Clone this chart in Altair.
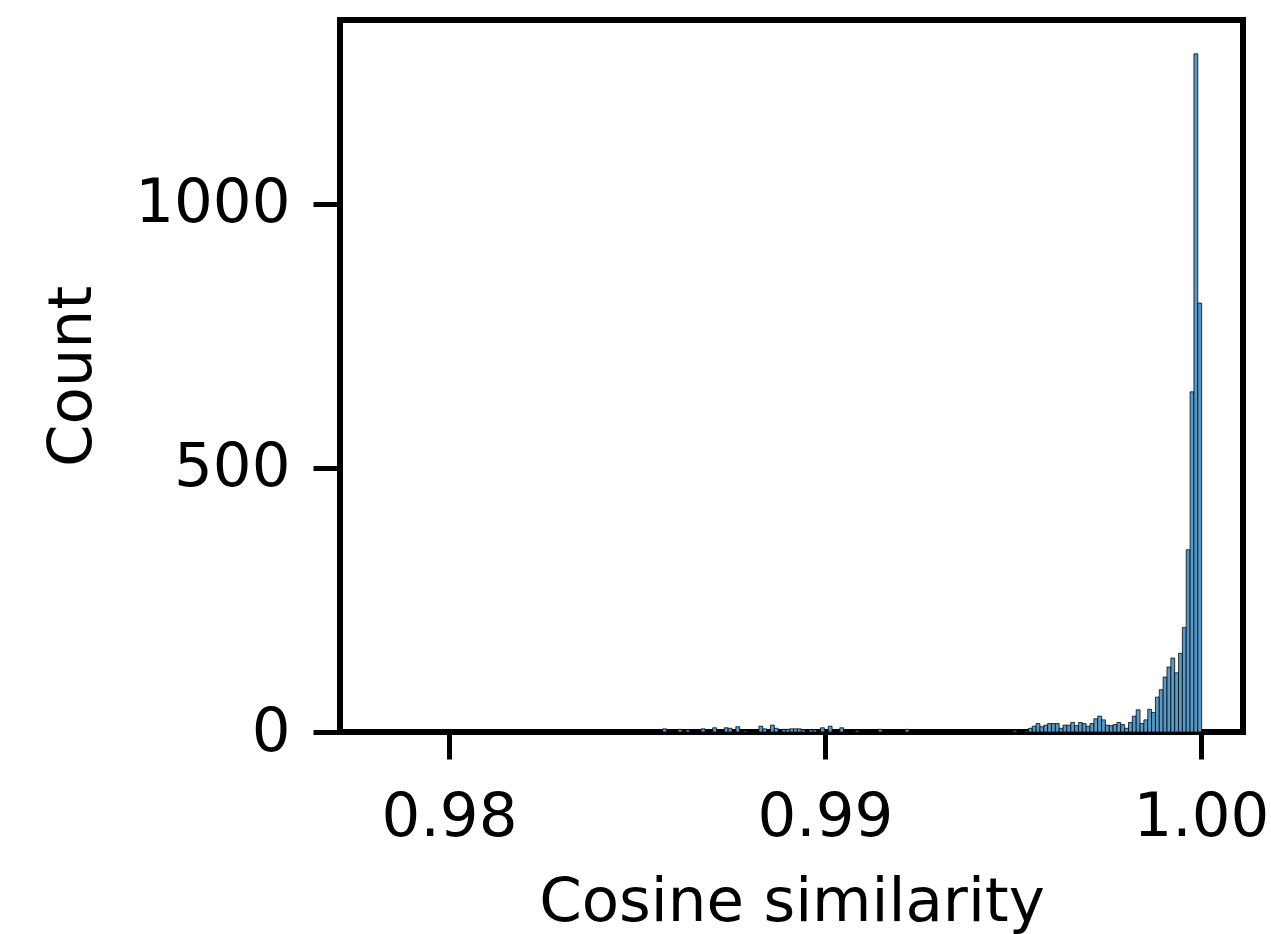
import altair as alt
import pandas as pd

# Histogram layout (seaborn-style auto bins)
BIN_LO = 0.978106
BIN_WIDTH = 0.0001024

# Non-empty bins (index from the first bin) and their counts
bin_index = [74, 78, 80, 84, 87, 90, 91, 93, 95, 99, 100, 102, 103,
             105, 106, 107, 108, 109, 110, 112, 113, 115, 117, 120, 124,
             130, 137, 165, 168, 169, 170, 171, 172, 173, 174, 175, 176,
             177, 178, 179, 180, 181, 182, 183, 184, 185, 186, 187, 188,
             189, 190, 191, 192, 193, 194, 195, 196, 197, 198, 199, 200,
             201, 202, 203, 204, 205, 206, 207, 208, 209, 210, 211, 212, 213]
counts = [6, 5, 4, 6, 8, 8, 7, 10, 2, 11, 6, 13, 7,
          5, 5, 6, 6, 6, 4, 4, 4, 8, 11, 8, 3,
          5, 5, 3, 2, 7, 11, 16, 10, 13, 16, 16, 16,
          7, 13, 13, 18, 12, 18, 16, 11, 16, 25, 30, 23,
          13, 12, 14, 18, 14, 7, 18, 30, 42, 16, 23, 43,
          37, 66, 80, 104, 123, 140, 112, 149, 198, 345, 644, 1284, 812]

x_ticks = [0.98, 0.99, 1.00]
y_ticks = [0, 500, 1000]
x_domain = [0.9771, 1.00112]
y_domain = [0, 1348]

df = pd.DataFrame({"idx": bin_index, "count": counts})
df["start"] = BIN_LO + df["idx"] * BIN_WIDTH
df["end"] = df["start"] + BIN_WIDTH

FONT = "DejaVu Sans"

chart = alt.Chart(df).mark_rect(
    fill="#5799c7", stroke="black", strokeWidth=0.9, strokeOpacity=0.85
).encode(
    x=alt.X("start:Q",
            scale=alt.Scale(domain=x_domain, nice=False, zero=False),
            axis=alt.Axis(values=x_ticks, format=".2f", title="Cosine similarity",
                          titleX=451.5, titleY=188, titleBaseline="alphabetic",
                          titleAlign="center", labelPadding=28)),
    x2="end:Q",
    y=alt.Y("count:Q",
            scale=alt.Scale(domain=y_domain, nice=False),
            axis=alt.Axis(values=y_ticks, format="d", title="Count",
                          titleX=-250, titleY=356, titleAngle=270,
                          titleBaseline="alphabetic", titleAlign="center",
                          labelPadding=23)),
    y2=alt.datum(0),
).properties(
    width=903, height=712,
    autosize=alt.AutoSizeParams(type="none"),
    padding={"left": 340, "top": 20, "right": 28, "bottom": 202},
).configure_view(
    stroke="black", strokeWidth=6
).configure_axis(
    domain=False, grid=False,
    ticks=True, tickSize=27, tickWidth=5, tickColor="black",
    labelFont=FONT, labelFontSize=61, labelColor="black",
    titleFont=FONT, titleFontSize=61, titleFontWeight="normal", titleColor="black",
    labelFlush=False, labelOverlap=False,
)

chart.save("out.html", embed_options={"renderer": "svg", "actions": False})
